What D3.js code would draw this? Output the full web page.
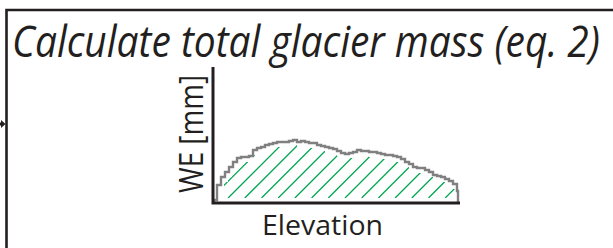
<!DOCTYPE html>
<html>
<head>
<meta charset="utf-8">
<script src="https://cdn.jsdelivr.net/npm/d3@7"></script>
<style>
  html, body { margin: 0; padding: 0; background: #fff; }
  svg { display: block; }
  text { fill: #231f20; font-family: "Open Sans", "Noto Sans", sans-serif; }
</style>
</head>
<body>
<div id="chart"></div>
<script>
// Data: elevation bins (arbitrary units) and water equivalent
const titleText = "Calculate total glacier mass (eq. 2)";
const yLabel = "WE [mm]";
const xLabel = "Elevation";
const elevation = d3.range(0, 248, 4);
const weValues = [3, 18, 26, 31, 36, 41, 45, 46, 46, 47, 53, 55, 56, 58, 59, 60,
  61, 61, 61, 62, 63, 61, 62, 61, 60, 60, 58, 57, 56, 55, 54, 52, 50, 49, 50, 51,
  53, 52, 52, 51, 51, 50, 49, 48, 48, 47, 46, 44, 41, 39, 36, 35, 35, 33, 31, 28,
  27, 26, 24, 22, 19, 12];

const W = 613, H = 248;
const svg = d3.select("#chart").append("svg")
  .attr("width", W).attr("height", H);

// frame (box continues past right and bottom edges)
svg.append("path")
  .attr("d", `M6.5,${H + 5} V10 H${W + 5}`)
  .attr("fill", "none").attr("stroke", "#231f20").attr("stroke-width", 2.6);

// incoming arrow on the left
svg.append("path")
  .attr("d", "M0,122.5 L1,122.5 L1,120 L5.5,124 L1,128 L1,125.5 L0,125.5 Z")
  .attr("fill", "#231f20");

// text squeezed horizontally to match the narrower original face
function fitText(sel, tx, ty, rot, size, width) {
  sel.style("font-size", size + "px");
  const w = sel.node().getComputedTextLength();
  sel.attr("transform", `translate(${tx},${ty}) rotate(${rot}) scale(${width / w},1)`);
}

// title
const title = svg.append("text")
  .style("font-style", "italic")
  .text(titleText);
fitText(title, 12, 57, 0, 44, 588);

// plot area
const x0 = 213, x1 = 460, yBase = 203, yTop = 67;
const x = d3.scaleLinear().domain([0, 247]).range([x0, x1]);
const y = d3.scaleLinear().domain([0, 136]).range([yBase, yTop]);

const pts = elevation.map((e, i) => [e, weValues[i]]);
pts.push([245, weValues[weValues.length - 1]]);

// clip for hatching (inset from the outline)
const inset = d3.area()
  .x(d => x(d[0]))
  .y0(yBase - 5)
  .y1(d => Math.min(y(d[1]) + 5, yBase - 5))
  .curve(d3.curveStepAfter);

svg.append("clipPath").attr("id", "hatchClip")
  .append("path").attr("d", inset(pts.map(d => [d[0] + (d[0] < 40 ? 3 : 0), d[1]])));

const hatchStarts = d3.range(178, 480, 16.7);
svg.append("g").attr("clip-path", "url(#hatchClip)")
  .selectAll("line").data(hatchStarts).join("line")
  .attr("x1", d => d).attr("y1", yBase - 5)
  .attr("x2", d => d + 140).attr("y2", yBase - 145)
  .attr("stroke", "#00a651").attr("stroke-width", 1.3);

// profile outline
const line = d3.line()
  .x(d => x(d[0]))
  .y(d => y(d[1]))
  .curve(d3.curveStepAfter);
const outline = [[1, 0]].concat(pts.map(d => d[0] === 0 ? [1, d[1]] : d)).concat([[245, 0]]);
svg.append("path")
  .attr("d", line(outline))
  .attr("fill", "none")
  .attr("stroke", "#808080")
  .attr("stroke-width", 2.4)
  .attr("stroke-linejoin", "miter");

// axes
svg.append("path")
  .attr("d", `M${x0},${yTop} V${yBase} H${x1}`)
  .attr("fill", "none").attr("stroke", "#231f20").attr("stroke-width", 3);

// axis labels
const xl = svg.append("text").text(xLabel);
fitText(xl, 262, 235, 0, 28, 121);

const yl = svg.append("text").text(yLabel);
fitText(yl, 203, 193, -90, 32, 118);
</script>
</body>
</html>
